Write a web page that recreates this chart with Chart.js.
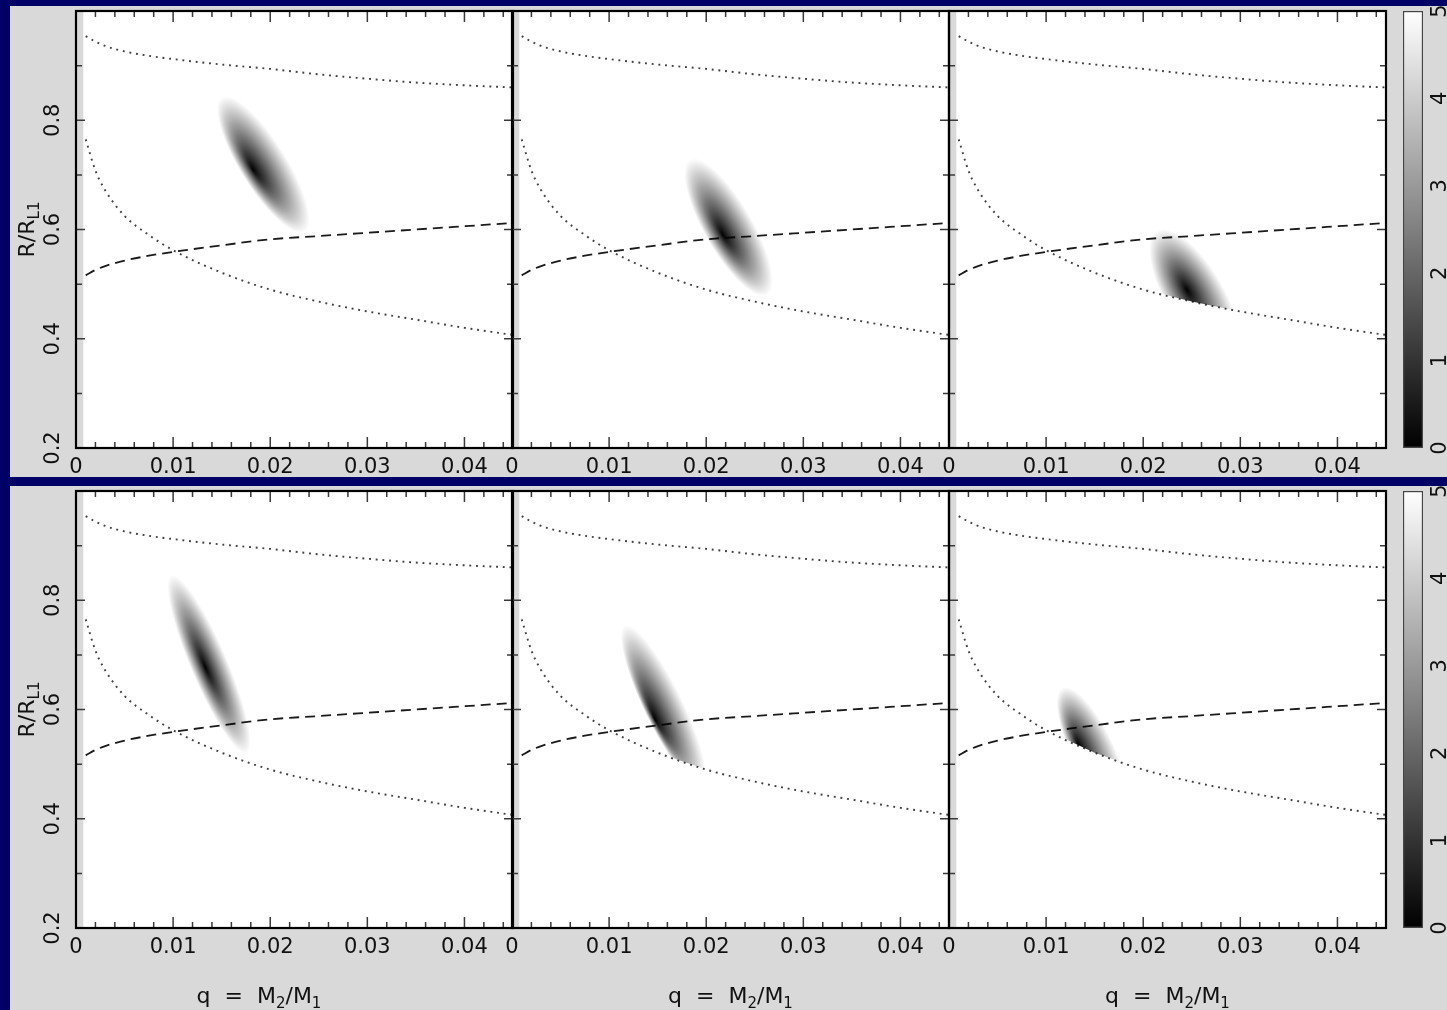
<!DOCTYPE html>
<html>
<head>
<meta charset="utf-8">
<script src="https://cdn.jsdelivr.net/npm/chart.js@4.4.1/dist/chart.umd.min.js"></script>
<style>
  html, body { margin: 0; padding: 0; background: #000066; }
  #fig { position: relative; width: 1447px; height: 1010px; overflow: hidden; background: #000066; }
  .band { position: absolute; left: 10px; width: 1437px; background: #d9d9d9; }
  .navy { position: absolute; background: #000066; z-index: 5; }
  canvas { position: absolute; }
</style>
</head>
<body>
<div id="fig">
  <div class="band" style="top:6px;height:471px"></div>
  <div class="band" style="top:486px;height:524px"></div>
  <div class="navy" style="left:0;top:0;width:1447px;height:6px"></div>
  <div class="navy" style="left:0;top:477px;width:1447px;height:9px"></div>
  <div class="navy" style="left:0;top:0;width:10px;height:1010px"></div>
</div>
<script>
// Mass-ratio grid shared by the three limit curves
const qGrid   = [0.001, 0.002, 0.003, 0.005, 0.0075, 0.01, 0.015, 0.02, 0.025, 0.03, 0.035, 0.04, 0.045];
const rUpper  = [0.954, 0.944, 0.936, 0.926, 0.918, 0.912, 0.902, 0.894, 0.884, 0.876, 0.869, 0.864, 0.860];
const rLower  = [0.765, 0.708, 0.672, 0.625, 0.590, 0.562, 0.521, 0.490, 0.468, 0.450, 0.435, 0.420, 0.407];
const rDashed = [0.516, 0.526, 0.533, 0.543, 0.552, 0.559, 0.571, 0.582, 0.588, 0.594, 0.600, 0.606, 0.612];

// Axis ranges and ticks
const qRange = [0, 0.045];
const rRange = [0.2, 1.0];
const qImageStart = 0.00075;
const qMajor = [0, 0.01, 0.02, 0.03, 0.04];
const qTickLabels = ['0', '0.01', '0.02', '0.03', '0.04'];
const qMinor = [0.002, 0.004, 0.006, 0.008, 0.012, 0.014, 0.016, 0.018, 0.022, 0.024, 0.026, 0.028,
                0.032, 0.034, 0.036, 0.038, 0.042, 0.044];
const rMajor = [0.2, 0.4, 0.6, 0.8, 1.0];
const rTickLabels = ['0.2', '0.4', '0.6', '0.8'];
const rMinor = [0.3, 0.5, 0.7, 0.9];
const levelTicks = [0, 1, 2, 3, 4, 5];

// Likelihood ellipses, one per panel (top row then bottom row): [q, R/RL1]
const blobTip  = [[0.0150, 0.842], [0.0183, 0.728], [0.0214, 0.598], [0.0098, 0.846], [0.0116, 0.754], [0.0117, 0.640]];
const blobEnd  = [[0.0236, 0.596], [0.0263, 0.480], [0.0292, 0.361], [0.0176, 0.520], [0.0196, 0.460], [0.0178, 0.414]];
const blobCore = [[0.0182, 0.710], [0.0217, 0.590], [0.0245, 0.489], [0.0133, 0.677], [0.0147, 0.582], [0.0133, 0.536]];
const blobHalfWidth = [0.0024, 0.0025, 0.0030, 0.0019, 0.0020, 0.0022];

const FONT = '"DejaVu Sans", "Liberation Sans", Arial, sans-serif';
const colLeft = [76, 512, 949];
const rowTop = [11, 491];
const axW = 437, axH = 437;
const pad = { left: 70, right: 14, top: 10, bottom: 80 };

const fig = document.getElementById('fig');

function makeCanvas(left, top, w, h) {
    const c = document.createElement('canvas');
    c.width = w; c.height = h;
    c.style.left = left + 'px'; c.style.top = top + 'px';
    c.style.width = w + 'px'; c.style.height = h + 'px';
    fig.appendChild(c);
    return c;
}

function xy(qs, rs) {
    return qs.map((q, k) => ({ x: q, y: rs[k] }));
}

// Draw text with lowered subscripts, centred on (0,0) of the current transform
function drawWithSubs(ctx, parts) {
    const big = '22px ' + FONT, small = '15px ' + FONT;
    let total = 0;
    parts.forEach(p => { ctx.font = p.sub ? small : big; total += ctx.measureText(p.t).width; });
    let cx = -total / 2;
    ctx.textAlign = 'left';
    ctx.textBaseline = 'middle';
    parts.forEach(p => {
        ctx.font = p.sub ? small : big;
        ctx.fillText(p.t, cx, p.sub ? 7 : 0);
        cx += ctx.measureText(p.t).width;
    });
}

function drawBlob(chart, i) {
    const { ctx, chartArea: a, scales: { x, y } } = chart;
    const px = p => [x.getPixelForValue(p[0]), y.getPixelForValue(p[1])];
    const [tx, ty] = px(blobTip[i]);
    const [ex, ey] = px(blobEnd[i]);
    const [cx, cy] = px(blobCore[i]);
    const mx = (tx + ex) / 2, my = (ty + ey) / 2;
    const major = Math.hypot(ex - tx, ey - ty) / 2;
    const minor = blobHalfWidth[i] * Math.abs(x.getPixelForValue(0.01) - x.getPixelForValue(0)) / 0.01;
    const ang = Math.atan2(ey - ty, ex - tx);

    ctx.save();
    // only the region above the lower limit curve is allowed
    const pts = chart.getDatasetMeta(1).data;
    ctx.beginPath();
    ctx.moveTo(a.left, a.top);
    ctx.lineTo(a.left, pts[0].y);
    pts.forEach(p => ctx.lineTo(p.x, p.y));
    ctx.lineTo(a.right, pts[pts.length - 1].y);
    ctx.lineTo(a.right, a.top);
    ctx.closePath();
    ctx.clip();

    ctx.translate(mx, my);
    ctx.rotate(ang);
    ctx.scale(1, minor / major);
    const dx = cx - mx, dy = cy - my;
    const fx = dx * Math.cos(ang) + dy * Math.sin(ang);
    const fy = (-dx * Math.sin(ang) + dy * Math.cos(ang)) * major / minor;
    const g = ctx.createRadialGradient(fx, fy, 0, 0, 0, major);
    for (let k = 0; k <= 20; k++) {
        const t = k / 20;
        const v = Math.round(255 * Math.pow(t, 0.95));
        g.addColorStop(t, `rgb(${v},${v},${v})`);
    }
    ctx.globalCompositeOperation = 'multiply';
    ctx.fillStyle = g;
    ctx.beginPath();
    ctx.arc(0, 0, major, 0, Math.PI * 2);
    ctx.fill();
    ctx.restore();
}

function drawAxes(chart, opts) {
    const { ctx, chartArea: a, scales: { x, y } } = chart;
    ctx.save();
    // inward ticks on all four sides
    ctx.strokeStyle = '#3a3a3a';
    ctx.lineWidth = 1.5;
    ctx.beginPath();
    const xTick = (q, len) => {
        const X = x.getPixelForValue(q);
        ctx.moveTo(X, a.bottom); ctx.lineTo(X, a.bottom - len);
        ctx.moveTo(X, a.top); ctx.lineTo(X, a.top + len);
    };
    const yTick = (r, len) => {
        const Y = y.getPixelForValue(r);
        ctx.moveTo(a.left, Y); ctx.lineTo(a.left + len, Y);
        ctx.moveTo(a.right, Y); ctx.lineTo(a.right - len, Y);
    };
    qMinor.forEach(q => xTick(q, 6));
    qMajor.forEach(q => xTick(q, 11));
    rMinor.forEach(r => yTick(r, 6));
    rMajor.forEach(r => yTick(r, 9));
    ctx.stroke();

    ctx.strokeStyle = '#000';
    ctx.lineWidth = 2.2;
    ctx.strokeRect(a.left, a.top, a.right - a.left, a.bottom - a.top);

    ctx.fillStyle = '#111';
    ctx.font = '21px ' + FONT;
    ctx.textAlign = 'center';
    ctx.textBaseline = 'middle';
    qMajor.forEach((q, k) => ctx.fillText(qTickLabels[k], x.getPixelForValue(q), a.bottom + 20));

    if (opts.col === 0) {
        rTickLabels.forEach((lab, k) => {
            ctx.save();
            ctx.translate(a.left - 22, y.getPixelForValue(rMajor[k]));
            ctx.rotate(-Math.PI / 2);
            ctx.textAlign = 'center';
            ctx.fillText(lab, 0, 0);
            ctx.restore();
        });
        ctx.save();
        ctx.translate(a.left - 48, (a.top + a.bottom) / 2);
        ctx.rotate(-Math.PI / 2);
        drawWithSubs(ctx, [{ t: 'R/R' }, { t: 'L1', sub: true }]);
        ctx.restore();
    }

    if (opts.row === 1) {
        const cx = opts.col === 0 ? 259 - (colLeft[0] - pad.left) : (a.left + a.right) / 2;
        ctx.save();
        ctx.translate(cx, a.bottom + 69);
        drawWithSubs(ctx, [{ t: 'q  =  M' }, { t: '2', sub: true }, { t: '/M' }, { t: '1', sub: true }]);
        ctx.restore();
    }
    ctx.restore();
}

const framePlugin = {
    id: 'frame',
    beforeDatasetsDraw(chart) {
        const { ctx, chartArea: a, scales: { x } } = chart;
        const x0 = x.getPixelForValue(qImageStart);
        ctx.save();
        ctx.fillStyle = '#ffffff';
        ctx.fillRect(x0, a.top, a.right - x0, a.bottom - a.top);
        ctx.restore();
    },
    afterDatasetsDraw(chart, args, opts) {
        drawBlob(chart, opts.panel);
        drawAxes(chart, opts);
    }
};

function makePanel(row, col) {
    const left = colLeft[col] - pad.left;
    const top = rowTop[row] - pad.top;
    const canvas = makeCanvas(left, top, axW + pad.left + pad.right, axH + pad.top + pad.bottom);
    const dotted = { showLine: true, borderColor: '#404040', borderWidth: 1.9, borderDash: [1.9, 4.8],
                     pointRadius: 0, cubicInterpolationMode: 'monotone' };
    return new Chart(canvas, {
        type: 'scatter',
        data: {
            datasets: [
                Object.assign({ data: xy(qGrid, rUpper) }, dotted),
                Object.assign({ data: xy(qGrid, rLower) }, dotted),
                { data: xy(qGrid, rDashed), showLine: true, borderColor: '#1a1a1a', borderWidth: 1.8,
                  borderDash: [10, 6], pointRadius: 0, cubicInterpolationMode: 'monotone' }
            ]
        },
        options: {
            responsive: false,
            animation: false,
            devicePixelRatio: 1,
            events: [],
            layout: { padding: pad },
            scales: {
                x: { type: 'linear', min: qRange[0], max: qRange[1], display: false },
                y: { type: 'linear', min: rRange[0], max: rRange[1], display: false }
            },
            plugins: {
                legend: { display: false },
                tooltip: { enabled: false },
                frame: { panel: row * 3 + col, row: row, col: col }
            }
        },
        plugins: [framePlugin]
    });
}

const colorbarLabels = {
    id: 'cbLabels',
    afterDatasetsDraw(chart) {
        const { ctx, chartArea: a, scales: { y } } = chart;
        ctx.save();
        ctx.fillStyle = '#111';
        ctx.font = '21px ' + FONT;
        ctx.textAlign = 'center';
        ctx.textBaseline = 'middle';
        levelTicks.forEach(v => {
            ctx.save();
            ctx.translate(a.right + 18, y.getPixelForValue(v));
            ctx.rotate(-Math.PI / 2);
            ctx.fillText(String(v), 0, 0);
            ctx.restore();
        });
        ctx.restore();
    }
};

function makeColorbar(row) {
    const cbPad = { left: 23, right: 24, top: 10, bottom: 10 };
    const canvas = makeCanvas(1380, rowTop[row] - cbPad.top, 67, axH + cbPad.top + cbPad.bottom);
    return new Chart(canvas, {
        type: 'bar',
        data: {
            labels: ['level'],
            datasets: [{
                data: [[levelTicks[0], levelTicks[levelTicks.length - 1]]],
                backgroundColor: c => {
                    const area = c.chart.chartArea;
                    if (!area) return '#888888';
                    const g = c.chart.ctx.createLinearGradient(0, area.bottom, 0, area.top);
                    g.addColorStop(0, '#000000');
                    g.addColorStop(1, '#ffffff');
                    return g;
                },
                borderColor: '#444444',
                borderWidth: 1.5,
                borderSkipped: false,
                barPercentage: 1,
                categoryPercentage: 1
            }]
        },
        options: {
            responsive: false,
            animation: false,
            devicePixelRatio: 1,
            events: [],
            layout: { padding: cbPad },
            scales: {
                x: { display: false },
                y: { display: false, min: levelTicks[0], max: levelTicks[levelTicks.length - 1] }
            },
            plugins: { legend: { display: false }, tooltip: { enabled: false } }
        },
        plugins: [colorbarLabels]
    });
}

for (let r = 0; r < 2; r++) {
    for (let c = 0; c < 3; c++) makePanel(r, c);
    makeColorbar(r);
}
</script>
</body>
</html>
